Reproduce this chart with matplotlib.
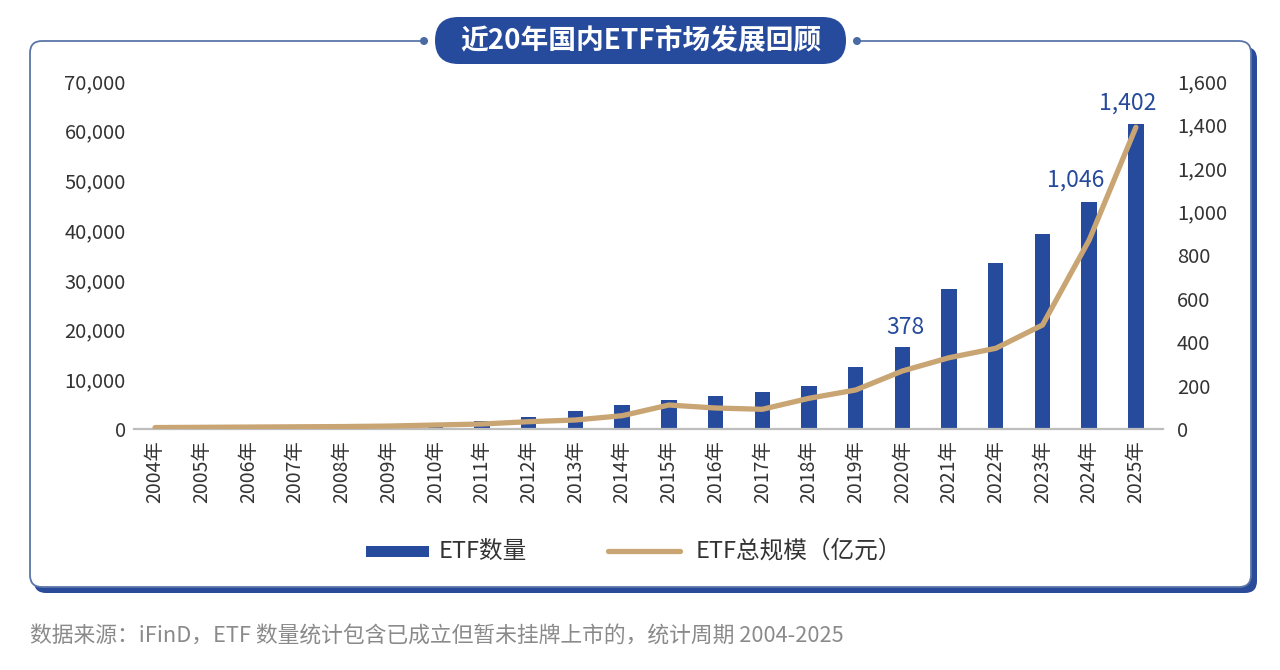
import matplotlib
matplotlib.use("Agg")
import matplotlib.pyplot as plt
from matplotlib.patches import FancyBboxPatch, Rectangle, Circle
from matplotlib.lines import Line2D
from matplotlib.transforms import IdentityTransform
from matplotlib.ticker import FuncFormatter

plt.rcParams['font.family'] = ['Noto Sans CJK SC', 'DejaVu Sans']

# ---------------- data ----------------
years = [f"{y}年" for y in range(2004, 2026)]
etf_count = [1, 1, 5, 5, 6, 8, 19, 38, 55, 86, 112, 133, 152, 170, 199, 288,
             378, 643, 763, 899, 1046, 1402]
etf_aum = [350, 400, 450, 500, 550, 650, 860, 1065, 1530, 1870, 2730, 4880,
           4280, 4020, 6230, 7900, 11720, 14390, 16280, 20960, 38050, 60700]
label_years = ["2020年", "2024年", "2025年"]
label_texts = ["378", "1,046", "1,402"]
left_ticks = [0, 10000, 20000, 30000, 40000, 50000, 60000, 70000]
right_ticks = [0, 200, 400, 600, 800, 1000, 1200, 1400, 1600]
title = "近20年国内ETF市场发展回顾"
legend_bar = "ETF数量"
legend_line = "ETF总规模（亿元）"
footer = "数据来源：iFinD，ETF 数量统计包含已成立但暂未挂牌上市的，统计周期 2004-2025"

BLUE = "#264a9c"
TAN = "#c9a574"
W, H = 1280, 670

fig = plt.figure(figsize=(12.8, 6.7), dpi=100)
fig.patch.set_facecolor("white")
I = IdentityTransform()

def py(y):  # convert top-origin pixel y to display y
    return H - y

# ---------------- card ----------------
shadow = FancyBboxPatch((34, py(593)), 1257 - 34, 593 - 47,
                        boxstyle="round,pad=0,rounding_size=12",
                        transform=I, facecolor="#2a4a9a", edgecolor="none",
                        zorder=-3)
card = FancyBboxPatch((30, py(587)), 1251 - 30, 587 - 41,
                      boxstyle="round,pad=0,rounding_size=12",
                      transform=I, facecolor="white", edgecolor="#5a76a8",
                      linewidth=1.3, zorder=-2)
fig.add_artist(shadow)
fig.add_artist(card)

# gap in top border + dots + pill
fig.add_artist(Rectangle((428, py(45)), 853 - 428, 8, transform=I,
                         facecolor="white", edgecolor="none", zorder=10))
for cx in (424, 857):
    fig.add_artist(Circle((cx, py(41)), 4, transform=I, facecolor="#4a6aa4",
                          edgecolor="none", zorder=11))
pill = FancyBboxPatch((435, py(64)), 846 - 435, 64 - 17,
                      boxstyle="round,pad=0,rounding_size=23.5",
                      transform=I, facecolor=BLUE, edgecolor="none", zorder=11)
fig.add_artist(pill)
fig.text(641 / W, 1 - 41 / H, title, color="white", fontsize=20,
         fontweight="bold", ha="center", va="center", zorder=12)

# ---------------- axes ----------------
x0, x1, yt, yb = 134, 1163, 81, 429.3
ax = fig.add_axes([x0 / W, 1 - yb / H, (x1 - x0) / W, (yb - yt) / H])
ax2 = ax.twinx()
ax.set_zorder(ax2.get_zorder() + 1)
ax.patch.set_visible(False)
ax2.patch.set_visible(False)

xs = list(range(len(years)))
ax2.bar(xs, etf_count, width=0.33, color=BLUE, zorder=2)
ax.plot(xs, etf_aum, color=TAN, linewidth=3.8, solid_capstyle="round",
        solid_joinstyle="round", zorder=3)

ax.set_xlim(-0.45, 21.58)
ax.set_ylim(0, 70000)
ax2.set_ylim(0, 1600)
ax.set_yticks(left_ticks)
ax2.set_yticks(right_ticks)
fmt = FuncFormatter(lambda v, p: f"{int(v):,}")
ax.yaxis.set_major_formatter(fmt)
ax2.yaxis.set_major_formatter(fmt)
ax.set_xticks(xs)
ax.set_xticklabels(years, rotation=90)

for a in (ax, ax2):
    for s in a.spines.values():
        s.set_visible(False)
    a.tick_params(length=0, colors="#333333", labelsize=14.5)
ax.spines["bottom"].set_visible(True)
ax.spines["bottom"].set_color("#bdbdbd")
ax.spines["bottom"].set_linewidth(1.6)
ax.tick_params(axis="y", pad=6)
ax2.tick_params(axis="y", pad=10)
ax.tick_params(axis="x", pad=8, labelsize=14)

# value labels
offsets = {"2020年": (3, 20), "2024年": (-14, 21), "2025年": (-8, 21)}
for yl, txt in zip(label_years, label_texts):
    i = years.index(yl)
    dx, dy = offsets[yl]
    ax2.annotate(txt, (xs[i], etf_count[i]), xytext=(dx * 0.72, dy * 0.72),
                 textcoords="offset points", ha="center", va="center",
                 color=BLUE, fontsize=16.5, fontweight="medium")

# ---------------- legend ----------------
fig.add_artist(Rectangle((366, py(557)), 63, 11.5, transform=I,
                         facecolor=BLUE, edgecolor="none"))
fig.text(439 / W, 1 - 551 / H, legend_bar, fontsize=17, color="#333333",
         ha="left", va="center")
fig.add_artist(Line2D([608, 680], [py(551), py(551)], transform=I,
                      color=TAN, linewidth=3.8, solid_capstyle="round"))
fig.text(696 / W, 1 - 551 / H, legend_line, fontsize=17, color="#333333",
         ha="left", va="center")

# ---------------- footer ----------------
fig.text(30 / W, 1 - 636 / H, footer, fontsize=15.7, color="#8a8a8a",
         ha="left", va="center")

fig.savefig("out.png", dpi=100)
